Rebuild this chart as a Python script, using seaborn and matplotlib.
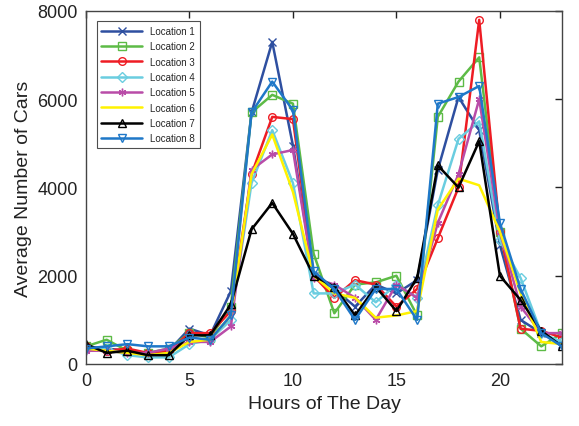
import matplotlib
matplotlib.use("Agg")
import matplotlib.pyplot as plt
import seaborn as sns
import pandas as pd

# data
hours = list(range(24))
loc1 = [400, 350, 300, 250, 300, 800, 650, 1650, 5700, 7300, 4950, 2000,
        1700, 1300, 1800, 1600, 1900, 4400, 6050, 5300, 2700, 1000, 700, 450]
loc2 = [400, 550, 300, 250, 350, 700, 600, 1300, 5700, 6100, 5900, 2500,
        1150, 1800, 1850, 2000, 1100, 5600, 6400, 6950, 3000, 800, 400, 700]
loc3 = [400, 300, 350, 250, 300, 700, 700, 1200, 4300, 5600, 5550, 2000,
        1500, 1900, 1800, 1300, 1700, 2850, 4000, 7800, 3000, 800, 750, 600]
loc4 = [350, 350, 200, 150, 150, 450, 550, 1000, 4100, 5300, 4100, 1600,
        1600, 1800, 1400, 1800, 1500, 3600, 5100, 5500, 2800, 1950, 700, 500]
loc5 = [300, 300, 250, 250, 350, 500, 500, 850, 4400, 4750, 4850, 1950,
        1800, 1500, 1000, 1800, 1500, 3200, 4300, 6000, 3000, 1300, 700, 700]
loc6 = [350, 300, 250, 200, 250, 500, 550, 1100, 4300, 5200, 3900, 2000,
        1600, 1500, 1050, 1100, 1200, 3500, 4200, 4050, 3000, 1600, 500, 450]
loc7 = [450, 250, 300, 200, 200, 650, 650, 1350, 3050, 3650, 2950, 2000,
        1750, 1100, 1750, 1200, 1950, 4500, 4000, 5050, 2000, 1450, 750, 400]
loc8 = [350, 400, 450, 400, 400, 600, 550, 1100, 5700, 6400, 5750, 2100,
        1700, 1000, 1700, 1700, 1000, 5900, 6050, 6300, 3200, 1700, 700, 400]

names = ["Location 1", "Location 2", "Location 3", "Location 4",
         "Location 5", "Location 6", "Location 7", "Location 8"]
series = [loc1, loc2, loc3, loc4, loc5, loc6, loc7, loc8]
colors = ["#2E4FA0", "#5DBB46", "#EE1C24", "#6ACDE0",
          "#B94CA8", "#FFF200", "#000000", "#1F78C8"]
markers = ["x", "s", "o", "D", (6, 2, 0), "", "^", "v"]

sns.set_style("white")
plt.rcParams["font.family"] = ["Liberation Sans", "DejaVu Sans"]

fig = plt.figure(figsize=(5.79, 4.27), dpi=100)
ax = fig.add_axes([0.1485, 0.1452, 0.8221, 0.8267])

for name, vals, c, m in zip(names, series, colors, markers):
    df = pd.DataFrame({"hour": hours, "cars": vals})
    kw = dict(marker=m, markersize=5.5, markerfacecolor="none",
              markeredgecolor=c, markeredgewidth=1.0) if m != "" else {}
    sns.lineplot(data=df, x="hour", y="cars", color=c, linewidth=1.8,
                 label=name, ax=ax, **kw)

ax.set_xlim(0, 23)
ax.set_ylim(0, 8000)
ax.set_xticks([0, 5, 10, 15, 20])
ax.set_yticks([0, 2000, 4000, 6000, 8000])
ax.tick_params(direction="in", length=5, width=1, top=True, right=True,
               labelsize=13, colors="#222222", pad=6)
for s in ax.spines.values():
    s.set_color("#444444")
    s.set_linewidth(1.0)
ax.set_xlabel("Hours of The Day", fontsize=14, color="#222222")
ax.set_ylabel("Average Number of Cars", fontsize=14, color="#222222")

leg = ax.legend(loc="upper left", fontsize=7, frameon=True, fancybox=False,
                edgecolor="#222222", borderpad=0.5, labelspacing=0.55,
                handlelength=4.2, handletextpad=0.8,
                bbox_to_anchor=(0.012, 0.985))
leg.get_frame().set_linewidth(0.8)

fig.savefig("out.png", dpi=100)
